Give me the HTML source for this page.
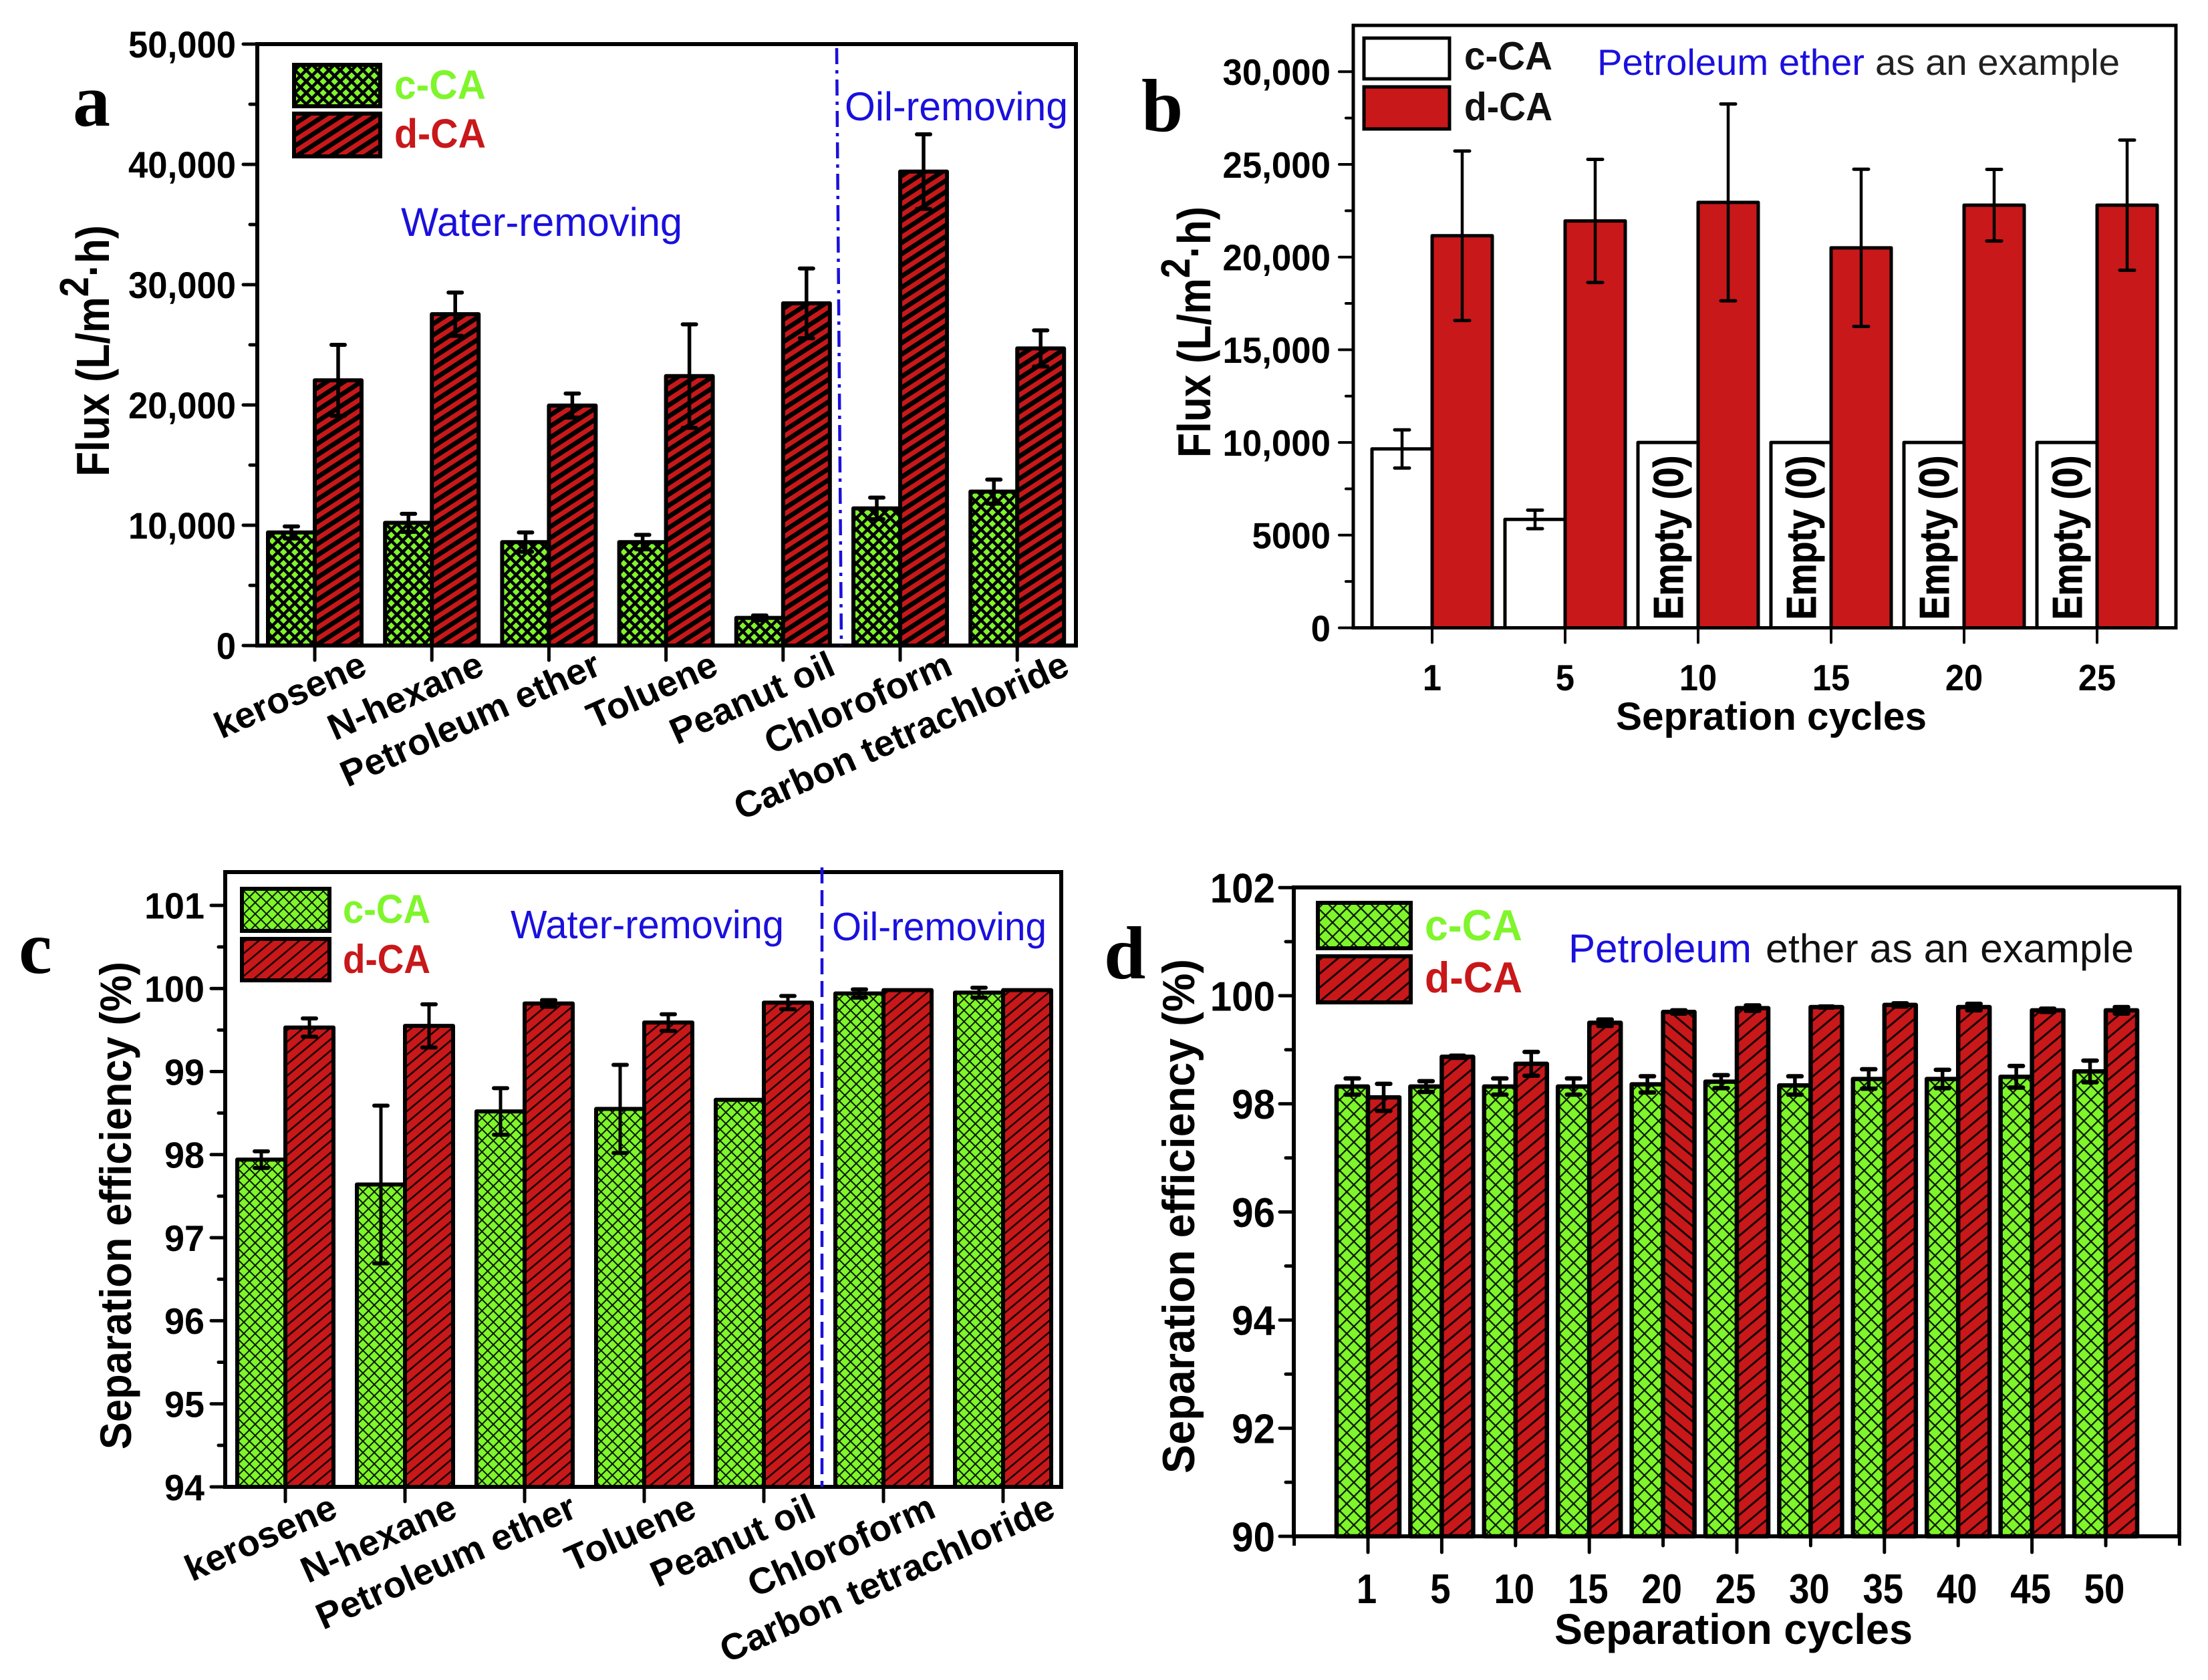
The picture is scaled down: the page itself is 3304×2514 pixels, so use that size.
<!DOCTYPE html>
<html lang="en">
<head>
<meta charset="utf-8">
<title>Flux and separation efficiency of c-CA and d-CA</title>
<style>
html,body{margin:0;padding:0;background:#fff;}
svg{display:block;font-family:"Liberation Sans",sans-serif;}
.ttl{font-weight:bold;fill:#000;}
.ltr{font-family:"Liberation Serif",serif;font-weight:bold;font-size:112px;fill:#000;}
.blue{fill:#1a10dc;}
</style>
</head>
<body>
<svg id="figure" xmlns="http://www.w3.org/2000/svg" width="3304" height="2514" viewBox="0 0 3304 2514">
<defs>
  <pattern id="gridA" patternUnits="userSpaceOnUse" width="12" height="12" patternTransform="rotate(45)">
    <rect width="12" height="12" fill="#7ff52b"/><path d="M0 0H12M0 0V12" stroke="#000" stroke-width="9"/>
  </pattern>
  <pattern id="stripeA" patternUnits="userSpaceOnUse" width="14" height="14" patternTransform="rotate(-33)">
    <rect width="14" height="14" fill="#c8181a"/><rect width="14" height="7" fill="#000"/>
  </pattern>
  <pattern id="gridC" patternUnits="userSpaceOnUse" width="12" height="12" patternTransform="rotate(45)">
    <rect width="12" height="12" fill="#7ff52b"/><path d="M0 0H12M0 0V12" stroke="#0a1a00" stroke-width="4"/>
  </pattern>
  <pattern id="stripeC" patternUnits="userSpaceOnUse" width="13" height="13" patternTransform="rotate(-40)">
    <rect width="13" height="13" fill="#c8181a"/><rect width="13" height="2.6" fill="#1a0000"/>
  </pattern>
  <pattern id="gridD" patternUnits="userSpaceOnUse" width="15" height="15" patternTransform="rotate(45)">
    <rect width="15" height="15" fill="#7ff52b"/><path d="M0 0H15M0 0V15" stroke="#0a1a00" stroke-width="4.4"/>
  </pattern>
  <pattern id="stripeD" patternUnits="userSpaceOnUse" width="16" height="16" patternTransform="rotate(-40)">
    <rect width="16" height="16" fill="#c8181a"/><rect width="16" height="3" fill="#1a0000"/>
  </pattern>
  <pattern id="stripeDr" patternUnits="userSpaceOnUse" width="16" height="16" patternTransform="rotate(40)">
    <rect width="16" height="16" fill="#c8181a"/><rect width="16" height="3" fill="#1a0000"/>
  </pattern>
</defs>

<g id="panel-a">
  <g id="marks-a"></g>
  <line x1="1252" y1="72" x2="1259" y2="966" stroke="#1a10dc" stroke-width="4.5" stroke-dasharray="24 9 5 9"/>
  <text class="ltr" x="109" y="188">a</text>
  <rect x="440" y="97" width="129" height="62" fill="url(#gridA)" stroke="#000" stroke-width="6"/>
  <rect x="440" y="170" width="129" height="64" fill="url(#stripeA)" stroke="#000" stroke-width="6"/>
  <text x="590" y="148" font-size="61" font-weight="bold" fill="#7ff52b" textLength="137" lengthAdjust="spacingAndGlyphs">c-CA</text>
  <text x="590" y="221" font-size="61" font-weight="bold" fill="#c8181a" textLength="137" lengthAdjust="spacingAndGlyphs">d-CA</text>
  <text class="blue" x="600" y="353" font-size="60" textLength="421" lengthAdjust="spacingAndGlyphs">Water-removing</text>
  <text class="blue" x="1264" y="180" font-size="60" textLength="334" lengthAdjust="spacingAndGlyphs">Oil-removing</text>
  <text class="ttl" transform="translate(163,525) rotate(-90) scale(0.96,1.1)" text-anchor="middle" font-size="63">Flux (L/m<tspan font-size="56" dy="-28">2</tspan><tspan dy="28">·h)</tspan></text>
</g>

<g id="panel-b">
  <g id="marks-b"></g>
  <text class="ltr" x="1708" y="196">b</text>
  <rect x="2041" y="57" width="128" height="61" fill="#fff" stroke="#000" stroke-width="5"/>
  <rect x="2041" y="130" width="128" height="63" fill="#c8181a" stroke="#000" stroke-width="5"/>
  <text x="2191" y="104" font-size="59" font-weight="bold" fill="#111" textLength="132" lengthAdjust="spacingAndGlyphs">c-CA</text>
  <text x="2191" y="180" font-size="59" font-weight="bold" fill="#111" textLength="132" lengthAdjust="spacingAndGlyphs">d-CA</text>
  <text class="blue" x="2390" y="112" font-size="55" textLength="400" lengthAdjust="spacingAndGlyphs">Petroleum ether</text>
  <text x="2806" y="112" font-size="55" fill="#222" textLength="366" lengthAdjust="spacingAndGlyphs">as an example</text>
  <text class="ttl" transform="translate(1811,497) rotate(-90) scale(0.96,1.1)" text-anchor="middle" font-size="63">Flux (L/m<tspan font-size="56" dy="-28">2</tspan><tspan dy="28">·h)</tspan></text>
  <text class="ttl" x="2418" y="1092" font-size="58" textLength="465" lengthAdjust="spacingAndGlyphs">Sepration cycles</text>
</g>

<g id="panel-c">
  <g id="marks-c"></g>
  <line x1="1230" y1="1298" x2="1230" y2="2225" stroke="#1a10dc" stroke-width="4.5" stroke-dasharray="24 10"/>
  <text class="ltr" x="28" y="1456">c</text>
  <rect x="362" y="1330" width="131" height="63" fill="url(#gridC)" stroke="#000" stroke-width="6"/>
  <rect x="362" y="1405" width="131" height="62" fill="url(#stripeC)" stroke="#000" stroke-width="6"/>
  <text x="513" y="1381" font-size="60" font-weight="bold" fill="#7ff52b" textLength="131" lengthAdjust="spacingAndGlyphs">c-CA</text>
  <text x="513" y="1456" font-size="60" font-weight="bold" fill="#c8181a" textLength="131" lengthAdjust="spacingAndGlyphs">d-CA</text>
  <text class="blue" x="764" y="1404" font-size="59" textLength="409" lengthAdjust="spacingAndGlyphs">Water-removing</text>
  <text class="blue" x="1245" y="1407" font-size="59" textLength="321" lengthAdjust="spacingAndGlyphs">Oil-removing</text>
  <text class="ttl" transform="translate(196,1804) rotate(-90) scale(1,1.08)" text-anchor="middle" font-size="61" textLength="730" lengthAdjust="spacingAndGlyphs">Separation efficiency (%)</text>
</g>

<g id="panel-d">
  <g id="marks-d"></g>
  <text class="ltr" x="1652" y="1464">d</text>
  <rect x="1972" y="1351" width="139" height="68" fill="url(#gridD)" stroke="#000" stroke-width="6"/>
  <rect x="1972" y="1431" width="139" height="69" fill="url(#stripeD)" stroke="#000" stroke-width="6"/>
  <text x="2132" y="1407" font-size="65" font-weight="bold" fill="#7ff52b" textLength="146" lengthAdjust="spacingAndGlyphs">c-CA</text>
  <text x="2132" y="1485" font-size="65" font-weight="bold" fill="#c8181a" textLength="146" lengthAdjust="spacingAndGlyphs">d-CA</text>
  <text class="blue" x="2347" y="1440" font-size="60" textLength="274" lengthAdjust="spacingAndGlyphs">Petroleum</text>
  <text x="2642" y="1440" font-size="60" fill="#111" textLength="551" lengthAdjust="spacingAndGlyphs">ether as an example</text>
  <text class="ttl" transform="translate(1787,1820) rotate(-90) scale(1,1.08)" text-anchor="middle" font-size="63" textLength="770" lengthAdjust="spacingAndGlyphs">Separation efficiency (%)</text>
  <text class="ttl" x="2326" y="2460" font-size="64" textLength="536" lengthAdjust="spacingAndGlyphs">Separation cycles</text>
</g>
</svg>

<script>
// ---- data ----
const oilCategories = ['kerosene','N-hexane','Petroleum ether','Toluene','Peanut oil','Chloroform','Carbon tetrachloride'];

const aYTicks = [0,10000,20000,30000,40000,50000];
const aYTickLabels = ['0','10,000','20,000','30,000','40,000','50,000'];
const aCcaValues = [9400,10200,8600,8600,2300,11400,12800];
const aCcaErrors = [500,750,800,600,200,900,1000];
const aDcaValues = [22050,27550,19950,22400,28450,39400,24700];
const aDcaErrors = [2950,1800,1000,4300,2900,3100,1500];

const bCycles = ['1','5','10','15','20','25'];
const bYTicks = [0,5000,10000,15000,20000,25000,30000];
const bYTickLabels = ['0','5000','10,000','15,000','20,000','25,000','30,000'];
const bCcaValues = [9650,5850,10000,10000,10000,10000];
const bCcaErrors = [1030,500,0,0,0,0];
const bCcaNotes = ['','','Empty (0)','Empty (0)','Empty (0)','Empty (0)'];
const bDcaValues = [21150,21950,22950,20500,22800,22800];
const bDcaErrors = [4570,3320,5310,4240,1930,3510];

const cYTicks = [94,95,96,97,98,99,100,101];
const cYTickLabels = ['94','95','96','97','98','99','100','101'];
const cCcaValues = [97.94,97.64,98.52,98.55,98.66,99.94,99.95];
const cCcaErrors = [0.1,0.95,0.28,0.53,0,0.05,0.06];
const cDcaValues = [99.53,99.55,99.82,99.59,99.83,99.98,99.98];
const cDcaErrors = [0.11,0.26,0.04,0.1,0.08,0,0];

const dCycles = ['1','5','10','15','20','25','30','35','40','45','50'];
const dYTicks = [90,92,94,96,98,100,102];
const dYTickLabels = ['90','92','94','96','98','100','102'];
const dCcaValues = [98.32,98.32,98.32,98.32,98.36,98.41,98.34,98.46,98.46,98.5,98.6];
const dCcaErrors = [0.15,0.1,0.15,0.15,0.15,0.12,0.17,0.18,0.17,0.2,0.2];
const dDcaValues = [98.12,98.87,98.74,99.5,99.7,99.77,99.79,99.83,99.79,99.73,99.73];
const dDcaErrors = [0.25,0.02,0.22,0.06,0.03,0.05,0.01,0.03,0.06,0.03,0.06];

// ---- drawing ----
const SVGNS = 'http://www.w3.org/2000/svg';

function make(parent, tag, attrs, name) {
  const el = document.createElementNS(SVGNS, tag);
  for (const k in attrs) el.setAttribute(k, attrs[k]);
  
  
  parent.appendChild(el);
  return el;
}

function slug(s) { return String(s).toLowerCase().replace(/[^a-z0-9]+/g, '-'); }

function label(parent, x, y, str, o, name) {
  const t = make(parent, 'text', {
    transform: 'translate(' + x + ',' + y + ') rotate(' + (o.rot || 0) + ') scale(' + (o.sx || 1) + ',' + (o.sy || 1) + ')',
    'font-size': o.size,
    'font-weight': 'bold',
    'text-anchor': o.anchor || 'middle',
    fill: '#000'
  }, name);
  t.textContent = str;
  return t;
}

function drawPanel(p) {
  const g = document.getElementById(p.host);
  const yScale = v => p.box.bottom - (v - p.yMin) * p.pxPerUnit;
  const xScale = i => p.firstTick + i * p.step;

  // white plot area
  make(g, 'rect', {x: p.box.left, y: p.box.top, width: p.box.right - p.box.left, height: p.box.bottom - p.box.top, fill: '#fff'}, 'plot-area');

  // bars
  const n = p.cca.length;
  for (let i = 0; i < n; i++) {
    const x = xScale(i);
    make(g, 'rect', {x: x - p.barW, y: yScale(p.cca[i]), width: p.barW, height: p.box.bottom - yScale(p.cca[i]), fill: p.fillC, stroke: '#000', 'stroke-width': p.barStroke, 'stroke-linejoin': 'round'}, 'bar-c-ca-' + slug(p.cats[i]));
    const fd = (p.reverseAt === i) ? p.fillDAlt : p.fillD;
    make(g, 'rect', {x: x, y: yScale(p.dca[i]), width: p.barW, height: p.box.bottom - yScale(p.dca[i]), fill: fd, stroke: '#000', 'stroke-width': p.barStroke, 'stroke-linejoin': 'round'}, 'bar-d-ca-' + slug(p.cats[i]));
  }

  // notes inside bars
  if (p.notes) {
    for (let i = 0; i < n; i++) {
      if (p.notes[i]) {
        const note = label(g, xScale(i) - 23, p.box.bottom - 12, p.notes[i], {size: 54, rot: -90, sy: 1.15, anchor: 'start'}, 'bar-note-' + slug(p.cats[i]));
        note.setAttribute('stroke', '#000');
        note.setAttribute('stroke-width', '0.8');
      }
    }
  }

  // error bars
  function errorBar(cx, v, e, name) {
    if (!e) return;
    const y1 = yScale(v + e), y2 = yScale(v - e);
    make(g, 'line', {x1: cx, x2: cx, y1: y1, y2: y2, stroke: '#000', 'stroke-width': p.errStem}, name + '-stem');
    make(g, 'line', {x1: cx - p.capW / 2, x2: cx + p.capW / 2, y1: y1, y2: y1, stroke: '#000', 'stroke-width': p.errCap, 'stroke-linecap': 'round'}, name + '-cap-top');
    make(g, 'line', {x1: cx - p.capW / 2, x2: cx + p.capW / 2, y1: y2, y2: y2, stroke: '#000', 'stroke-width': p.errCap, 'stroke-linecap': 'round'}, name + '-cap-bottom');
  }
  for (let i = 0; i < n; i++) {
    errorBar(xScale(i) - p.barW / 2, p.cca[i], p.errC[i], 'error-c-ca-' + slug(p.cats[i]));
    errorBar(xScale(i) + p.barW / 2, p.dca[i], p.errD[i], 'error-d-ca-' + slug(p.cats[i]));
  }

  // frame
  make(g, 'rect', {x: p.box.left, y: p.box.top, width: p.box.right - p.box.left, height: p.box.bottom - p.box.top, fill: 'none', stroke: '#000', 'stroke-width': p.axisW}, 'plot-frame');

  // y ticks
  p.yTicks.forEach((v, i) => {
    const y = yScale(v);
    make(g, 'line', {x1: p.box.left - p.tickMajor, x2: p.box.left, y1: y, y2: y, stroke: '#000', 'stroke-width': p.axisW - 1, 'stroke-linecap': 'round'}, 'y-tick-' + slug(p.yLabels[i]));
    label(g, p.yLabelRight, y + p.yLabelSize * 0.36, p.yLabels[i], {size: p.yLabelSize, anchor: 'end', sx: p.yLabelSx}, 'y-tick-label-' + slug(p.yLabels[i]));
    if (i < p.yTicks.length - 1) {
      const ym = yScale((v + p.yTicks[i + 1]) / 2);
      make(g, 'line', {x1: p.box.left - p.tickMinor, x2: p.box.left, y1: ym, y2: ym, stroke: '#000', 'stroke-width': p.axisW - 1, 'stroke-linecap': 'round'}, 'y-minor-tick');
    }
  });

  // x ticks and labels
  const bottom = p.box.bottom;
  for (let i = 0; i < n; i++) {
    const x = xScale(i);
    const isMajor = !p.altMinor || i === 0 || i % 2 === 1;
    make(g, 'line', {x1: x, x2: x, y1: bottom, y2: bottom + (isMajor ? p.tickX : p.tickXMinor), stroke: '#000', 'stroke-width': p.axisW - 1, 'stroke-linecap': 'round'}, 'x-tick-' + slug(p.cats[i]));
    if (p.rotLabels) {
      label(g, x + p.rotDx, bottom + p.rotDy, p.cats[i], {size: p.xLabelSize, anchor: 'end', rot: -24}, 'x-tick-label-' + slug(p.cats[i]));
    } else {
      label(g, x + (p.xLabelDx || 0), p.xLabelY, p.cats[i], {size: p.xLabelSize, sx: p.xLabelSx}, 'x-tick-label-' + slug(p.cats[i]));
    }
  }
  if (p.altMinor) {
    [-1, n].forEach(i => {
      make(g, 'line', {x1: xScale(i), x2: xScale(i), y1: bottom, y2: bottom + p.tickXMinor, stroke: '#000', 'stroke-width': p.axisW - 1}, 'x-edge-tick');
    });
  }
}

drawPanel({
  host: 'marks-a', box: {left: 385, right: 1610, top: 66, bottom: 966},
  yMin: 0, pxPerUnit: 900 / 50000, firstTick: 471, step: 175.2, barW: 70, barStroke: 6,
  cats: oilCategories, cca: aCcaValues, errC: aCcaErrors, dca: aDcaValues, errD: aDcaErrors,
  fillC: 'url(#gridA)', fillD: 'url(#stripeA)',
  errStem: 5.5, errCap: 6, capW: 20, axisW: 6, tickMajor: 21, tickMinor: 11, tickX: 22,
  yTicks: aYTicks, yLabels: aYTickLabels, yLabelRight: 353, yLabelSize: 56, yLabelSx: 0.94,
  rotLabels: true, xLabelSize: 55, rotDx: 81, rotDy: 42
});

drawPanel({
  host: 'marks-b', box: {left: 2025, right: 3256, top: 38, bottom: 939.5},
  yMin: 0, pxPerUnit: 138.7 / 5000, firstTick: 2143, step: 199, barW: 90, barStroke: 5,
  cats: bCycles, cca: bCcaValues, errC: bCcaErrors, dca: bDcaValues, errD: bDcaErrors, notes: bCcaNotes,
  fillC: '#fff', fillD: '#c8181a',
  errStem: 4.5, errCap: 5, capW: 22, axisW: 5, tickMajor: 21, tickMinor: 11, tickX: 22,
  yTicks: bYTicks, yLabels: bYTickLabels, yLabelRight: 1991, yLabelSize: 55, yLabelSx: 0.96,
  xLabelSize: 55, xLabelSx: 0.92, xLabelY: 1033
});

drawPanel({
  host: 'marks-c', box: {left: 337, right: 1588, top: 1305, bottom: 2225},
  yMin: 94, pxPerUnit: 124.3, firstTick: 427, step: 179, barW: 72, barStroke: 6,
  cats: oilCategories, cca: cCcaValues, errC: cCcaErrors, dca: cDcaValues, errD: cDcaErrors,
  fillC: 'url(#gridC)', fillD: 'url(#stripeC)',
  errStem: 5, errCap: 6, capW: 20, axisW: 6, tickMajor: 21, tickMinor: 10, tickX: 22,
  yTicks: cYTicks, yLabels: cYTickLabels, yLabelRight: 306, yLabelSize: 55, yLabelSx: 0.98,
  rotLabels: true, xLabelSize: 55, rotDx: 81, rotDy: 44
});

drawPanel({
  host: 'marks-d', box: {left: 1936, right: 3261, top: 1328, bottom: 2299},
  yMin: 90, pxPerUnit: 80.9, firstTick: 2047, step: 110.4, barW: 47, barStroke: 6.5,
  cats: dCycles, cca: dCcaValues, errC: dCcaErrors, dca: dDcaValues, errD: dDcaErrors, reverseAt: 4,
  fillC: 'url(#gridD)', fillD: 'url(#stripeD)', fillDAlt: 'url(#stripeDr)',
  errStem: 5.5, errCap: 6.5, capW: 20, axisW: 6, tickMajor: 21, tickMinor: 12, tickX: 24, tickXMinor: 14, altMinor: true,
  yTicks: dYTicks, yLabels: dYTickLabels, yLabelRight: 1908, yLabelSize: 62, yLabelSx: 0.94,
  xLabelSize: 62, xLabelSx: 0.88, xLabelDx: -2, xLabelY: 2399
});
</script>
</body>
</html>
